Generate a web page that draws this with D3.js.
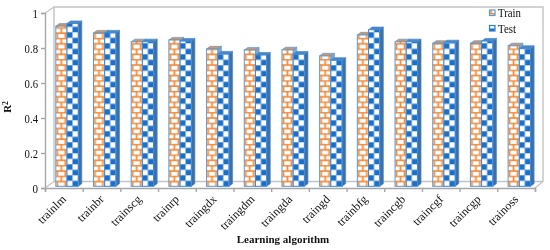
<!DOCTYPE html>
<html>
<head>
<meta charset="utf-8">
<script src="https://cdn.jsdelivr.net/npm/d3@7"></script>
<style>
html, body { margin: 0; padding: 0; background: #fff; }
svg { display: block; filter: blur(0.3px); }
text { font-family: "Liberation Serif", serif; fill: #111; }
</style>
</head>
<body>
<svg id="chart" width="550" height="250"></svg>
<script>
var algorithms = ['trainlm','trainbr','trainscg','trainrp','traingdx','traingdm','traingda','traingd','trainbfg','traincgb','traincgf','traincgp','trainoss'];
var trainValues = [0.915,0.876,0.826,0.836,0.785,0.779,0.78,0.745,0.865,0.826,0.817,0.817,0.803];
var testValues = [0.93,0.876,0.826,0.83,0.756,0.75,0.755,0.72,0.895,0.826,0.82,0.83,0.788];
var yTicks = [0,0.2,0.4,0.6,0.8,1];

var svg = d3.select("#chart");
var defs = svg.append("defs");

var depthX = 9, depthY = -6.5;
var barDepthX = 3.6, barDepthY = -2.6;
var orange = "#f28c3e", blue = "#1b6fc8", wallGrey = "#c4c4c4", axisGrey = "#a6a6a6";

var x = d3.scaleBand().domain(algorithms).range([45, 535]);
var y = d3.scaleLinear().domain([0, 1]).range([188, 13]);

// brick pattern for Train
var brick = defs.append("pattern").attr("id", "brick").attr("patternUnits", "userSpaceOnUse")
	.attr("width", 11).attr("height", 10.6);
brick.append("rect").attr("width", 11).attr("height", 10.6).attr("fill", "#fff");
brick.append("path").attr("d", "M0,0.6H11M0,5.9H11M5.5,0.6V5.9M1.5,5.9V10.6M9.5,5.9V10.6")
	.attr("stroke", orange).attr("stroke-width", 1.8).attr("fill", "none");

// checker pattern for Test
var check = defs.append("pattern").attr("id", "check").attr("patternUnits", "userSpaceOnUse")
	.attr("width", 11).attr("height", 11);
check.append("rect").attr("width", 11).attr("height", 11).attr("fill", "#fff");
check.append("path").attr("d", "M0,0H5.5V5.5H0ZM5.5,5.5H11V11H5.5Z").attr("fill", blue);

// walls and floor
var wallLines = [
	"M45,188L" + (45 + depthX) + "," + (188 + depthY) + "V7H543V" + (188 + depthY) + "L535,188",
	"M" + (45 + depthX) + "," + (188 + depthY) + "H543",
	"M45,13L" + (45 + depthX) + ",7"
];
svg.append("g").selectAll("path").data(wallLines).enter().append("path")
	.attr("d", function(d) { return d; })
	.attr("fill", "none").attr("stroke", wallGrey).attr("stroke-width", 1.4);

// axes
var yAxis = d3.axisLeft(y).tickValues(yTicks).tickSize(4).tickPadding(3)
	.tickFormat(function(d) { return d; });
var gy = svg.append("g").attr("transform", "translate(45,0)").call(yAxis);
gy.selectAll("path,line").attr("stroke", axisGrey).attr("stroke-width", 1.4);
gy.selectAll("text").style("font-size", "12.5px").attr("textLength", function(d) { return d === 0 || d === 1 ? 5.5 : 13.4; }).attr("lengthAdjust", "spacingAndGlyphs");

var tickPositions = algorithms.map(function(d) { return x(d); }).concat([535]);
var xAxis = d3.axisBottom(d3.scaleLinear().domain([45, 535]).range([45, 535]))
	.tickValues(tickPositions).tickSize(4).tickFormat("");
var gx = svg.append("g").attr("transform", "translate(0,188)").call(xAxis);
gx.selectAll("path,line").attr("stroke", axisGrey).attr("stroke-width", 1.4);

// bars
var barW = 11.2;
function drawBars(values, offset, fillId, edge, sideFill, topFill) {
	var g = svg.append("g");
	var rows = algorithms.map(function(a, i) { return { name: a, value: values[i] }; });
	var baseX = function(d) { return x(d.name) + offset; };
	var topY = function(d) { return y(d.value) - 1.7; };
	var baseY = y(0) - 1.7;

	g.selectAll("path.side").data(rows).enter().append("path")
		.attr("d", function(d) {
			var r = baseX(d) + barW;
			return "M" + r + "," + baseY + "l" + barDepthX + "," + barDepthY + "V" + (topY(d) + barDepthY) + "L" + r + "," + topY(d) + "Z";
		})
		.attr("fill", sideFill).attr("stroke", edge).attr("stroke-width", 0.7);
	g.selectAll("path.top").data(rows).enter().append("path")
		.attr("d", function(d) {
			var l = baseX(d);
			return "M" + l + "," + topY(d) + "l" + barDepthX + "," + barDepthY + "h" + barW + "l" + (-barDepthX) + "," + (-barDepthY) + "Z";
		})
		.attr("fill", topFill).attr("stroke", edge).attr("stroke-width", 0.7);
	// each bar in its own coordinates so the pattern starts at the bar foot
	g.selectAll("rect").data(rows).enter().append("rect")
		.attr("transform", function(d) { return "translate(" + baseX(d) + "," + baseY + ")"; })
		.attr("x", 0)
		.attr("y", function(d) { return topY(d) - baseY; })
		.attr("width", barW)
		.attr("height", function(d) { return baseY - topY(d); })
		.attr("fill", "url(#" + fillId + ")")
		.attr("stroke", edge).attr("stroke-width", 1);
}
drawBars(trainValues, 10.8, "brick", "#5b9bd5", "#7fa6d0", "#d9935a");
drawBars(testValues, 22, "check", "#3f8ad6", "#3f6fa6", "#4f86c0");

// tick labels
svg.append("g").selectAll("text").data(algorithms).enter().append("text")
	.attr("transform", function(d) { return "translate(" + (x(d) + x.bandwidth() / 2 + 1) + ",198) rotate(-45)"; })
	.attr("text-anchor", "end")
	.attr("dominant-baseline", "middle")
	.style("font-size", "12px")
	.text(function(d) { return d; });

// axis titles
svg.append("text").attr("x", 283).attr("y", 243).attr("text-anchor", "middle")
	.style("font-size", "11px").style("font-weight", "bold").text("Learning algorithm");
var yt = svg.append("text").attr("transform", "translate(11,107) rotate(-90)").attr("text-anchor", "middle")
	.style("font-size", "11px").style("font-weight", "bold");
yt.append("tspan").text("R");
yt.append("tspan").attr("dy", -3).style("font-size", "7.5px").text("2");

// legend
var legend = svg.append("g").selectAll("g").data([["Train", "brick", "#5b9bd5"], ["Test", "check", "#2f7fd0"]])
	.enter().append("g").attr("transform", function(d, i) { return "translate(489.5," + (13 + i * 15.5) + ")"; });
legend.append("rect").attr("x", 0).attr("y", -3).attr("width", 5.5).attr("height", 5.5)
	.attr("fill", function(d) { return "url(#" + d[1] + ")"; }).attr("stroke", function(d) { return d[2]; }).attr("stroke-width", 1.2);
legend.append("text").attr("x", 8.5).attr("y", 4).style("font-size", "12px")
	.attr("textLength", function(d) { return d[0] === "Train" ? 23 : 18; }).attr("lengthAdjust", "spacingAndGlyphs")
	.text(function(d) { return d[0]; });
</script>
</body>
</html>
